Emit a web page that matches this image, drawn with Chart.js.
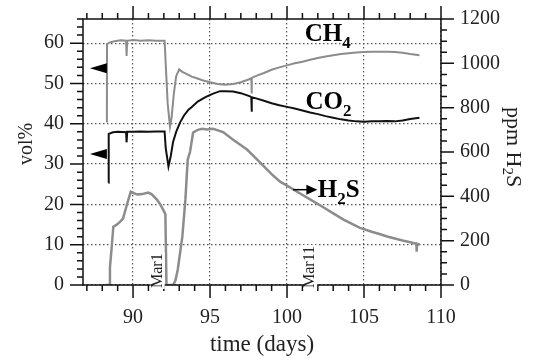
<!DOCTYPE html>
<html>
<head>
<meta charset="utf-8">
<script src="https://cdn.jsdelivr.net/npm/chart.js@4"></script>
<style>
  html,body{margin:0;padding:0;background:#fff}
  canvas{display:block}
</style>
</head>
<body>
<canvas id="chart" width="538" height="358"></canvas>
<script>
    // values (days, vol% / ppm)
    const ch4Days = [88.3,88.31,88.5,88.8,89.2,89.55,89.58,89.62,90.0,90.5,91.0,91.5,92.05,92.12,92.25,92.4,92.5,92.65,92.8,93.0,93.2,93.5,93.8,94.0,94.5,95.0,95.5,96.0,96.5,97.0,97.5,97.68,97.7,97.72,98.0,98.5,99.0,99.5,100.0,100.5,101.0,101.5,102.0,102.5,103.0,103.5,104.0,104.5,105.0,105.5,106.0,106.5,107.0,107.5,108.0,108.6];
    const ch4Vals = [40.3,59.8,60.2,60.5,60.7,60.6,56.8,60.6,60.8,60.6,60.7,60.6,60.6,55.0,45.0,39.3,41.5,47.5,51.8,53.5,52.9,52.3,51.7,51.5,50.8,50.3,49.9,49.7,49.9,50.3,51.0,51.3,47.5,51.4,51.9,52.6,53.4,54.0,54.5,55.0,55.4,55.9,56.3,56.7,57.0,57.3,57.5,57.7,57.8,57.9,57.9,57.9,57.8,57.6,57.3,57.0];

    const co2Days = [88.4,88.42,88.7,89.0,89.55,89.58,89.62,90.0,90.5,91.0,91.5,92.05,92.12,92.3,92.45,92.6,92.8,93.05,93.3,93.6,93.8,94.2,94.7,95.2,95.65,96.0,96.5,97.0,97.6,97.68,97.7,97.72,98.0,98.5,99.0,99.5,100.0,100.5,101.0,101.5,102.0,102.5,103.0,103.5,104.0,104.5,105.0,105.5,106.0,106.5,107.0,107.5,108.0,108.6];
    const co2Vals = [25.4,37.5,37.9,38.0,37.9,35.4,38.0,38.0,38.1,38.0,38.1,38.1,34.0,29.4,32.0,35.5,38.0,40.3,42.0,43.5,44.1,45.5,46.6,47.5,48.1,48.1,48.0,47.6,46.8,46.6,43.0,46.6,46.3,45.7,45.1,44.6,44.2,43.8,43.3,42.8,42.4,41.9,41.5,41.1,40.8,40.6,40.5,40.6,40.6,40.7,40.6,40.8,41.2,41.5];

    const h2sDays = [88.2,88.45,88.5,88.6,88.72,88.9,89.15,89.35,89.6,89.85,90.0,90.3,90.6,90.97,91.2,91.55,91.8,91.95,92.1,92.17,92.6,92.75,92.9,93.2,93.4,93.55,93.7,93.9,94.2,94.5,94.8,95.2,95.85,96.5,97.4,98.0,98.5,99.0,99.55,100.0,100.85,101.5,102.3,103.0,103.7,104.74,105.5,106.0,106.5,107.0,107.5,108.0,108.4,108.42,108.45,108.6];
    const h2sVals = [0,0,80,160,263,270,285,300,362,421,415,408,410,417,410,385,360,340,320,0,0,20,68,217,385,566,600,688,700,705,702,705,690,655,611,570,535,500,466,448,413,386,353,323,294,258,240,230,219,210,201,193,186,150,186,182];

    const xTicks = [90,95,100,105,110];
    const volTicks = [0,10,20,30,40,50,60];
    const ppmTicks = [0,200,400,600,800,1000,1200];

    // annotations, in data units
    const gasNotes = [
      { main:'CH', sub:'4', tail:'', day:101.15, val:60.5, axis:'y' },
      { main:'CO', sub:'2', tail:'', day:101.2, val:43.6, axis:'y' },
      { main:'H', sub:'2', tail:'S', day:102.0, val:398, axis:'y2' }
    ];
    const dateNotes = [ { day:91.6, text:'Mar1' }, { day:101.5, text:'Mar11' } ];
    const leftArrows = [ { from:88.3, to:87.2, val:53.8 }, { from:88.3, to:87.2, val:32.5 } ];
    const rightArrow = { from:100.4, to:101.97, val:430 };

    const SERIF = "'Liberation Serif', 'Times New Roman', serif";

    function pts(days, vals){ return days.map((d,i) => ({ x:d, y:vals[i] })); }

    function chemText(ctx, n, x, y, size, weight){
      ctx.font = `${weight} ${size}px ${SERIF}`;
      ctx.fillText(n.main, x, y);
      let cx = x + ctx.measureText(n.main).width;
      ctx.font = `${weight} ${Math.round(size*0.68)}px ${SERIF}`;
      ctx.fillText(n.sub, cx, y + size*0.28);
      cx += ctx.measureText(n.sub).width;
      ctx.font = `${weight} ${size}px ${SERIF}`;
      if(n.tail) ctx.fillText(n.tail, cx, y);
    }
    function chemWidth(ctx, n, size, weight){
      ctx.font = `${weight} ${size}px ${SERIF}`;
      let w = ctx.measureText(n.main).width + (n.tail ? ctx.measureText(n.tail).width : 0);
      ctx.font = `${weight} ${Math.round(size*0.68)}px ${SERIF}`;
      return w + ctx.measureText(n.sub).width;
    }

    // keep the plot box fixed: no extra room for the end labels
    function noPad(s){ s.paddingTop = 0; s.paddingBottom = 0; s.paddingLeft = 0; s.paddingRight = 0; }

    const decor = {
      id:'decor',
      afterDraw(chart){
        const { ctx, chartArea:a, scales } = chart;
        const x = scales.x, y = scales.y, y2 = scales.y2;
        ctx.save();
        ctx.strokeStyle = '#111'; ctx.lineWidth = 1.5;
        ctx.strokeRect(a.left, a.top, a.right - a.left, a.bottom - a.top);

        // tick marks (major / minor) on all four sides
        ctx.beginPath();
        for(let d = 87; d <= 110; d++){
          const px = x.getPixelForValue(d), len = d % 5 === 0 ? 13 : 6;
          ctx.moveTo(px, a.bottom); ctx.lineTo(px, a.bottom + len);
          ctx.moveTo(px, a.top); ctx.lineTo(px, a.top - len);
        }
        for(let v = 0; v <= 66; v += 2){
          const py = y.getPixelForValue(v), len = v % 10 === 0 ? 13 : 6;
          ctx.moveTo(a.left, py); ctx.lineTo(a.left - len, py);
        }
        for(let v = 0; v <= 1200; v += 50){
          const py = y2.getPixelForValue(v), len = v % 200 === 0 ? 13 : 6;
          ctx.moveTo(a.right, py); ctx.lineTo(a.right + len, py);
        }
        ctx.stroke();

        // date markers on the bottom axis
        ctx.font = `16px ${SERIF}`;
        ctx.textBaseline = 'middle'; ctx.textAlign = 'left';
        dateNotes.forEach(n => {
          const w = ctx.measureText(n.text).width;
          ctx.save();
          ctx.translate(x.getPixelForValue(n.day), a.bottom + 3);
          ctx.rotate(-Math.PI/2);
          ctx.fillStyle = '#fff'; ctx.fillRect(-1, -7, w + 2, 14);
          ctx.fillStyle = '#222'; ctx.fillText(n.text, 0, 0);
          ctx.restore();
        });

        // arrows
        ctx.fillStyle = '#000'; ctx.strokeStyle = '#000'; ctx.lineWidth = 1.5;
        leftArrows.forEach(ar => {
          const bx = x.getPixelForValue(ar.from), tx = x.getPixelForValue(ar.to), py = y.getPixelForValue(ar.val);
          ctx.beginPath(); ctx.moveTo(tx, py); ctx.lineTo(bx, py - 5); ctx.lineTo(bx, py + 5); ctx.closePath(); ctx.fill();
        });
        {
          const sx = x.getPixelForValue(rightArrow.from), tx = x.getPixelForValue(rightArrow.to), py = y2.getPixelForValue(rightArrow.val);
          ctx.beginPath(); ctx.moveTo(sx, py); ctx.lineTo(tx - 10, py); ctx.stroke();
          ctx.beginPath(); ctx.moveTo(tx, py); ctx.lineTo(tx - 11, py - 5); ctx.lineTo(tx - 11, py + 5); ctx.closePath(); ctx.fill();
        }

        // gas labels
        ctx.textAlign = 'left'; ctx.textBaseline = 'alphabetic'; ctx.fillStyle = '#000';
        gasNotes.forEach(n => {
          chemText(ctx, n, x.getPixelForValue(n.day), scales[n.axis].getPixelForValue(n.val), 25, 'bold');
        });

        // axis titles
        ctx.fillStyle = '#222';
        ctx.font = `23px ${SERIF}`;
        ctx.textAlign = 'center';
        ctx.fillText('time (days)', (a.left + a.right)/2, a.bottom + 66);

        ctx.save();
        ctx.translate(a.left - 56, (a.top + a.bottom)/2 - 8);
        ctx.rotate(-Math.PI/2);
        ctx.textBaseline = 'middle';
        ctx.font = `20px ${SERIF}`;
        ctx.fillText('vol%', 0, 0);
        ctx.restore();

        ctx.save();
        const ppm = { main:'ppm H', sub:'2', tail:'S' };
        ctx.translate(a.right + 72, (a.top + a.bottom)/2 - 5);
        ctx.rotate(Math.PI/2);
        ctx.textAlign = 'left'; ctx.textBaseline = 'middle';
        const w = chemWidth(ctx, ppm, 22, 'normal');
        chemText(ctx, ppm, -w/2, 0, 22, 'normal');
        ctx.restore();

        ctx.restore();
      }
    };

    const gridDash = { display:false, dash:[1.5,2.5] };
    const tickFont = { family:SERIF, size:20 };
    const plain = v => String(v);

    new Chart(document.getElementById('chart'), {
      type:'line',
      data:{ datasets:[
        { label:'CO2', data:pts(co2Days, co2Vals), yAxisID:'y', borderColor:'#111', borderWidth:2 },
        { label:'CH4', data:pts(ch4Days, ch4Vals), yAxisID:'y', borderColor:'#8c8c8c', borderWidth:2 },
        { label:'H2S', data:pts(h2sDays, h2sVals), yAxisID:'y2', borderColor:'#8c8c8c', borderWidth:2.5 }
      ]},
      options:{
        responsive:false, animation:false, devicePixelRatio:1,
        layout:{ padding:{ top:19, left:0, right:0, bottom:0 } },
        elements:{ point:{ radius:0 }, line:{ tension:0 } },
        plugins:{ legend:{ display:false }, tooltip:{ enabled:false } },
        scales:{
          x:{ type:'linear', min:86.75, max:110,
              afterBuildTicks:s => { s.ticks = xTicks.map(v => ({ value:v })); },
              afterFit:s => { s.height = 73; noPad(s); },
              grid:{ color:'#555', lineWidth:1.2, drawTicks:false }, border:gridDash,
              ticks:{ font:tickFont, color:'#222', padding:21, maxRotation:0, callback:plain } },
          y:{ position:'left', min:0, max:66,
              afterBuildTicks:s => { s.ticks = volTicks.map(v => ({ value:v })); },
              afterFit:s => { s.width = 83; noPad(s); },
              grid:{ color:'#555', lineWidth:1.2, drawTicks:false }, border:gridDash,
              ticks:{ font:tickFont, color:'#222', padding:19, callback:plain } },
          y2:{ position:'right', min:0, max:1200,
              afterBuildTicks:s => { s.ticks = ppmTicks.map(v => ({ value:v })); },
              afterFit:s => { s.width = 97; noPad(s); },
              grid:{ display:false, drawTicks:false }, border:{ display:false },
              ticks:{ font:tickFont, color:'#222', padding:19, callback:plain } }
        }
      },
      plugins:[decor]
    });
</script>
</body>
</html>
